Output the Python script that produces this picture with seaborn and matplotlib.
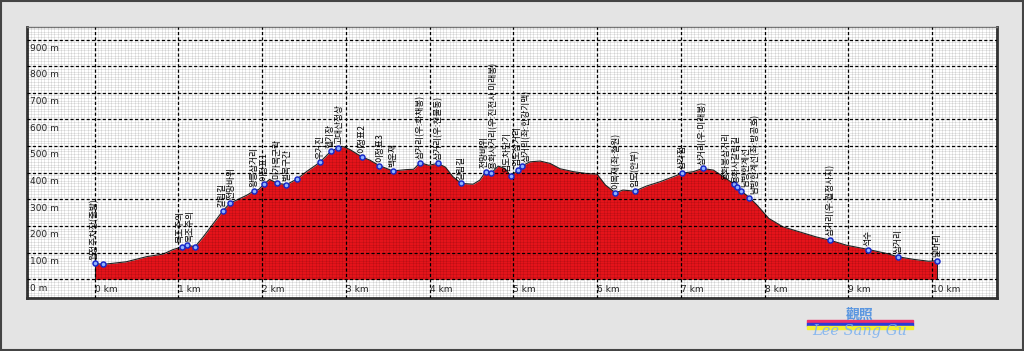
import numpy as np
import pandas as pd
import matplotlib
matplotlib.use("Agg")
import matplotlib.pyplot as plt
import seaborn as sns
from matplotlib.patches import Rectangle

# elevation profile (km, m)
dist_km = [0.0, 0.1, 0.38, 0.62, 0.82, 0.94, 1.05, 1.11, 1.2, 1.3, 1.42, 1.53, 1.62, 1.74, 1.82,
           1.9, 1.96, 2.02, 2.09, 2.18, 2.29, 2.42, 2.53, 2.69, 2.82, 2.91, 2.97, 3.05, 3.19, 3.29,
           3.4, 3.56, 3.73, 3.81, 3.89, 3.99, 4.1, 4.19, 4.28, 4.38, 4.52, 4.6, 4.67, 4.74, 4.82,
           4.9, 4.97, 5.06, 5.1, 5.2, 5.32, 5.44, 5.56, 5.72, 5.88, 6.0, 6.1, 6.22, 6.31, 6.45,
           6.59, 6.75, 6.91, 7.02, 7.15, 7.26, 7.39, 7.51, 7.64, 7.67, 7.72, 7.82, 7.91, 8.05, 8.22,
           8.42, 8.62, 8.78, 8.98, 9.24, 9.46, 9.59, 9.78, 9.96, 10.06]
elev_m = [60, 56, 66, 85, 95, 112, 122, 128, 122, 160, 210, 256, 286, 304, 316,
          331, 337, 356, 375, 361, 355, 377, 404, 439, 480, 494, 498, 487, 460, 447,
          427, 407, 412, 413, 438, 428, 435, 421, 385, 360, 357, 372, 404, 399, 425,
          416, 389, 410, 425, 441, 444, 435, 415, 404, 397, 395, 354, 325, 335, 331,
          350, 366, 385, 399, 404, 416, 410, 385, 357, 347, 332, 307, 279, 229, 197,
          178, 159, 147, 128, 112, 97, 85, 75, 68, 70]

# waypoints
wp_km = [0.0, 0.1, 1.05, 1.11, 1.2, 1.53, 1.62, 1.9, 2.02, 2.18, 2.29, 2.42, 2.69, 2.82, 2.91,
         3.19, 3.4, 3.56, 3.89, 4.1, 4.38, 4.67, 4.74, 4.97, 5.06, 5.1, 6.22, 6.45, 7.02, 7.26,
         7.64, 7.67, 7.72, 7.82, 8.78, 9.24, 9.59, 10.06]
wp_m = [60, 56, 122, 128, 122, 256, 286, 331, 356, 361, 355, 377, 439, 480, 494,
        460, 427, 407, 438, 435, 360, 404, 399, 389, 410, 425, 325, 331, 399, 416,
        357, 347, 332, 307, 147, 112, 85, 70]
wp_name = ["월정주차장(출발)", "", "목조주의", "목조주의", "", "갈림길", "전망바위", "왕릉삼거리", "이정표1",
           "마가목군락", "벌목구간", "", "우거진", "헬기장", "고대산정상",
           "이정표2", "이정표3", "백운재", "삼거리(우:화채봉)", "삼거리(우:천불동)", "갈림길", "전망바위",
           "용화사거리(우:진전사 미래봉)", "임도차단기", "임도삼거리", "삼거리(좌:한강기맥)",
           "이목재(좌:철원)", "임도(안부)", "삼각점", "삼거리(우:미래봉)",
           "용화봉삼거리", "용화사갈림길", "남방한계선", "남방한계선(좌:방공호)",
           "삼거리(우:월정사지)", "석수", "삼거리", "날머리"]

y_ticks = [0, 100, 200, 300, 400, 500, 600, 700, 800, 900]
x_ticks = [0, 1, 2, 3, 4, 5, 6, 7, 8, 9, 10]

prof = pd.DataFrame({"km": dist_km, "m": elev_m})
wps = pd.DataFrame({"km": wp_km, "m": wp_m, "name": wp_name})

sns.set_style("white")
plt.rcParams['font.family'] = ['Noto Sans CJK KR', 'DejaVu Sans']

fig = plt.figure(figsize=(10.24, 3.51), dpi=100, facecolor="#e4e4e4")
ax = fig.add_axes([27 / 1024, 1 - 298 / 351, 970 / 1024, 271 / 351])
ax.set_facecolor("white")

ax.fill_between(prof["km"], 0, prof["m"], color="#e5131a", lw=0, zorder=2)
sns.lineplot(data=prof, x="km", y="m", color="#222222", lw=0.8, ax=ax, zorder=3)
ax.vlines([dist_km[0], dist_km[-1]], 0, [elev_m[0], elev_m[-1]], color="#222222", lw=0.8, zorder=3)

# fine grid over everything
ax.set_xticks(np.arange(-0.8, 10.8, 0.04), minor=True)
ax.set_yticks(np.arange(-70, 950, 10), minor=True)
ax.grid(which="minor", color="black", alpha=0.13, lw=0.5, zorder=4)
ax.set_axisbelow(False)
for t in y_ticks:
    ax.axhline(t, color="black", lw=0.9, ls=(0, (2.5, 1.8)), zorder=5)
for t in x_ticks:
    ax.axvline(t, color="black", lw=0.9, ls=(0, (2.5, 1.8)), zorder=5)

sns.scatterplot(data=wps, x="km", y="m", s=13, color="#8fb4ff", edgecolor="#1a2bc8",
                linewidth=1.1, ax=ax, zorder=6)

# spread the crowded labels sideways so the columns don't sit on top of each other
lab = wps[wps["name"] != ""].reset_index(drop=True)
gap = 0.115
groups = [[0]]
for i in range(1, len(lab)):
    if lab.loc[i, "km"] - lab.loc[groups[-1][-1], "km"] < gap:
        groups[-1].append(i)
    else:
        groups.append([i])
lx = lab["km"].to_numpy(dtype=float).copy()
for g in groups:
    if len(g) > 1:
        c = lab.loc[g, "km"].mean()
        lx[g] = c + (np.arange(len(g)) - (len(g) - 1) / 2) * gap
for i, r in lab.iterrows():
    ax.text(lx[i], r["m"] + 14, r["name"], rotation=90, ha="center", va="bottom",
            fontsize=6.3, color="black", zorder=7)

ax.set_xlim(-0.806, 10.776)
ax.set_ylim(-70, 947)
ax.set_xticks([])
ax.set_yticks([])
ax.set_xlabel("")
ax.set_ylabel("")
for t in y_ticks:
    ax.annotate(f"{t} m", (-0.8, t), xytext=(2, -3), textcoords="offset points",
                ha="left", va="top", fontsize=6.5, family="DejaVu Sans", zorder=7)
for t in x_ticks:
    ax.annotate(f"{t} km", (t, -70), xytext=(0, 3), textcoords="offset points",
                ha="left", va="bottom", fontsize=6.5, family="DejaVu Sans", zorder=7)

for side in ["left", "right", "bottom"]:
    ax.spines[side].set_color("#333333")
    ax.spines[side].set_linewidth(2)
ax.spines["top"].set_color("#777777")
ax.spines["top"].set_linewidth(1)

# watermark
fig.patches.append(Rectangle((807 / 1024, 1 - 323 / 351), 106 / 1024, 3 / 351,
                             transform=fig.transFigure, color="#f0306a"))
fig.patches.append(Rectangle((807 / 1024, 1 - 326 / 351), 106 / 1024, 3 / 351,
                             transform=fig.transFigure, color="#2a3ad8"))
fig.patches.append(Rectangle((807 / 1024, 1 - 329 / 351), 106 / 1024, 3 / 351,
                             transform=fig.transFigure, color="#f4f030"))
fig.text(860 / 1024, 1 - 315 / 351, "觀照", ha="center", va="center", fontsize=10,
         fontweight="bold", color="#5a96e0")
fig.text(860 / 1024, 1 - 331 / 351, "Lee Sang Gu", ha="center", va="center", fontsize=10.5,
         style="italic", family="DejaVu Serif", color="#7db2f0", alpha=0.9)

fig.patches.append(Rectangle((0.001, 0.002), 0.998, 0.996, transform=fig.transFigure,
                             fill=False, edgecolor="#444444", lw=1.5))

fig.savefig("out.png", dpi=100, facecolor=fig.get_facecolor())
